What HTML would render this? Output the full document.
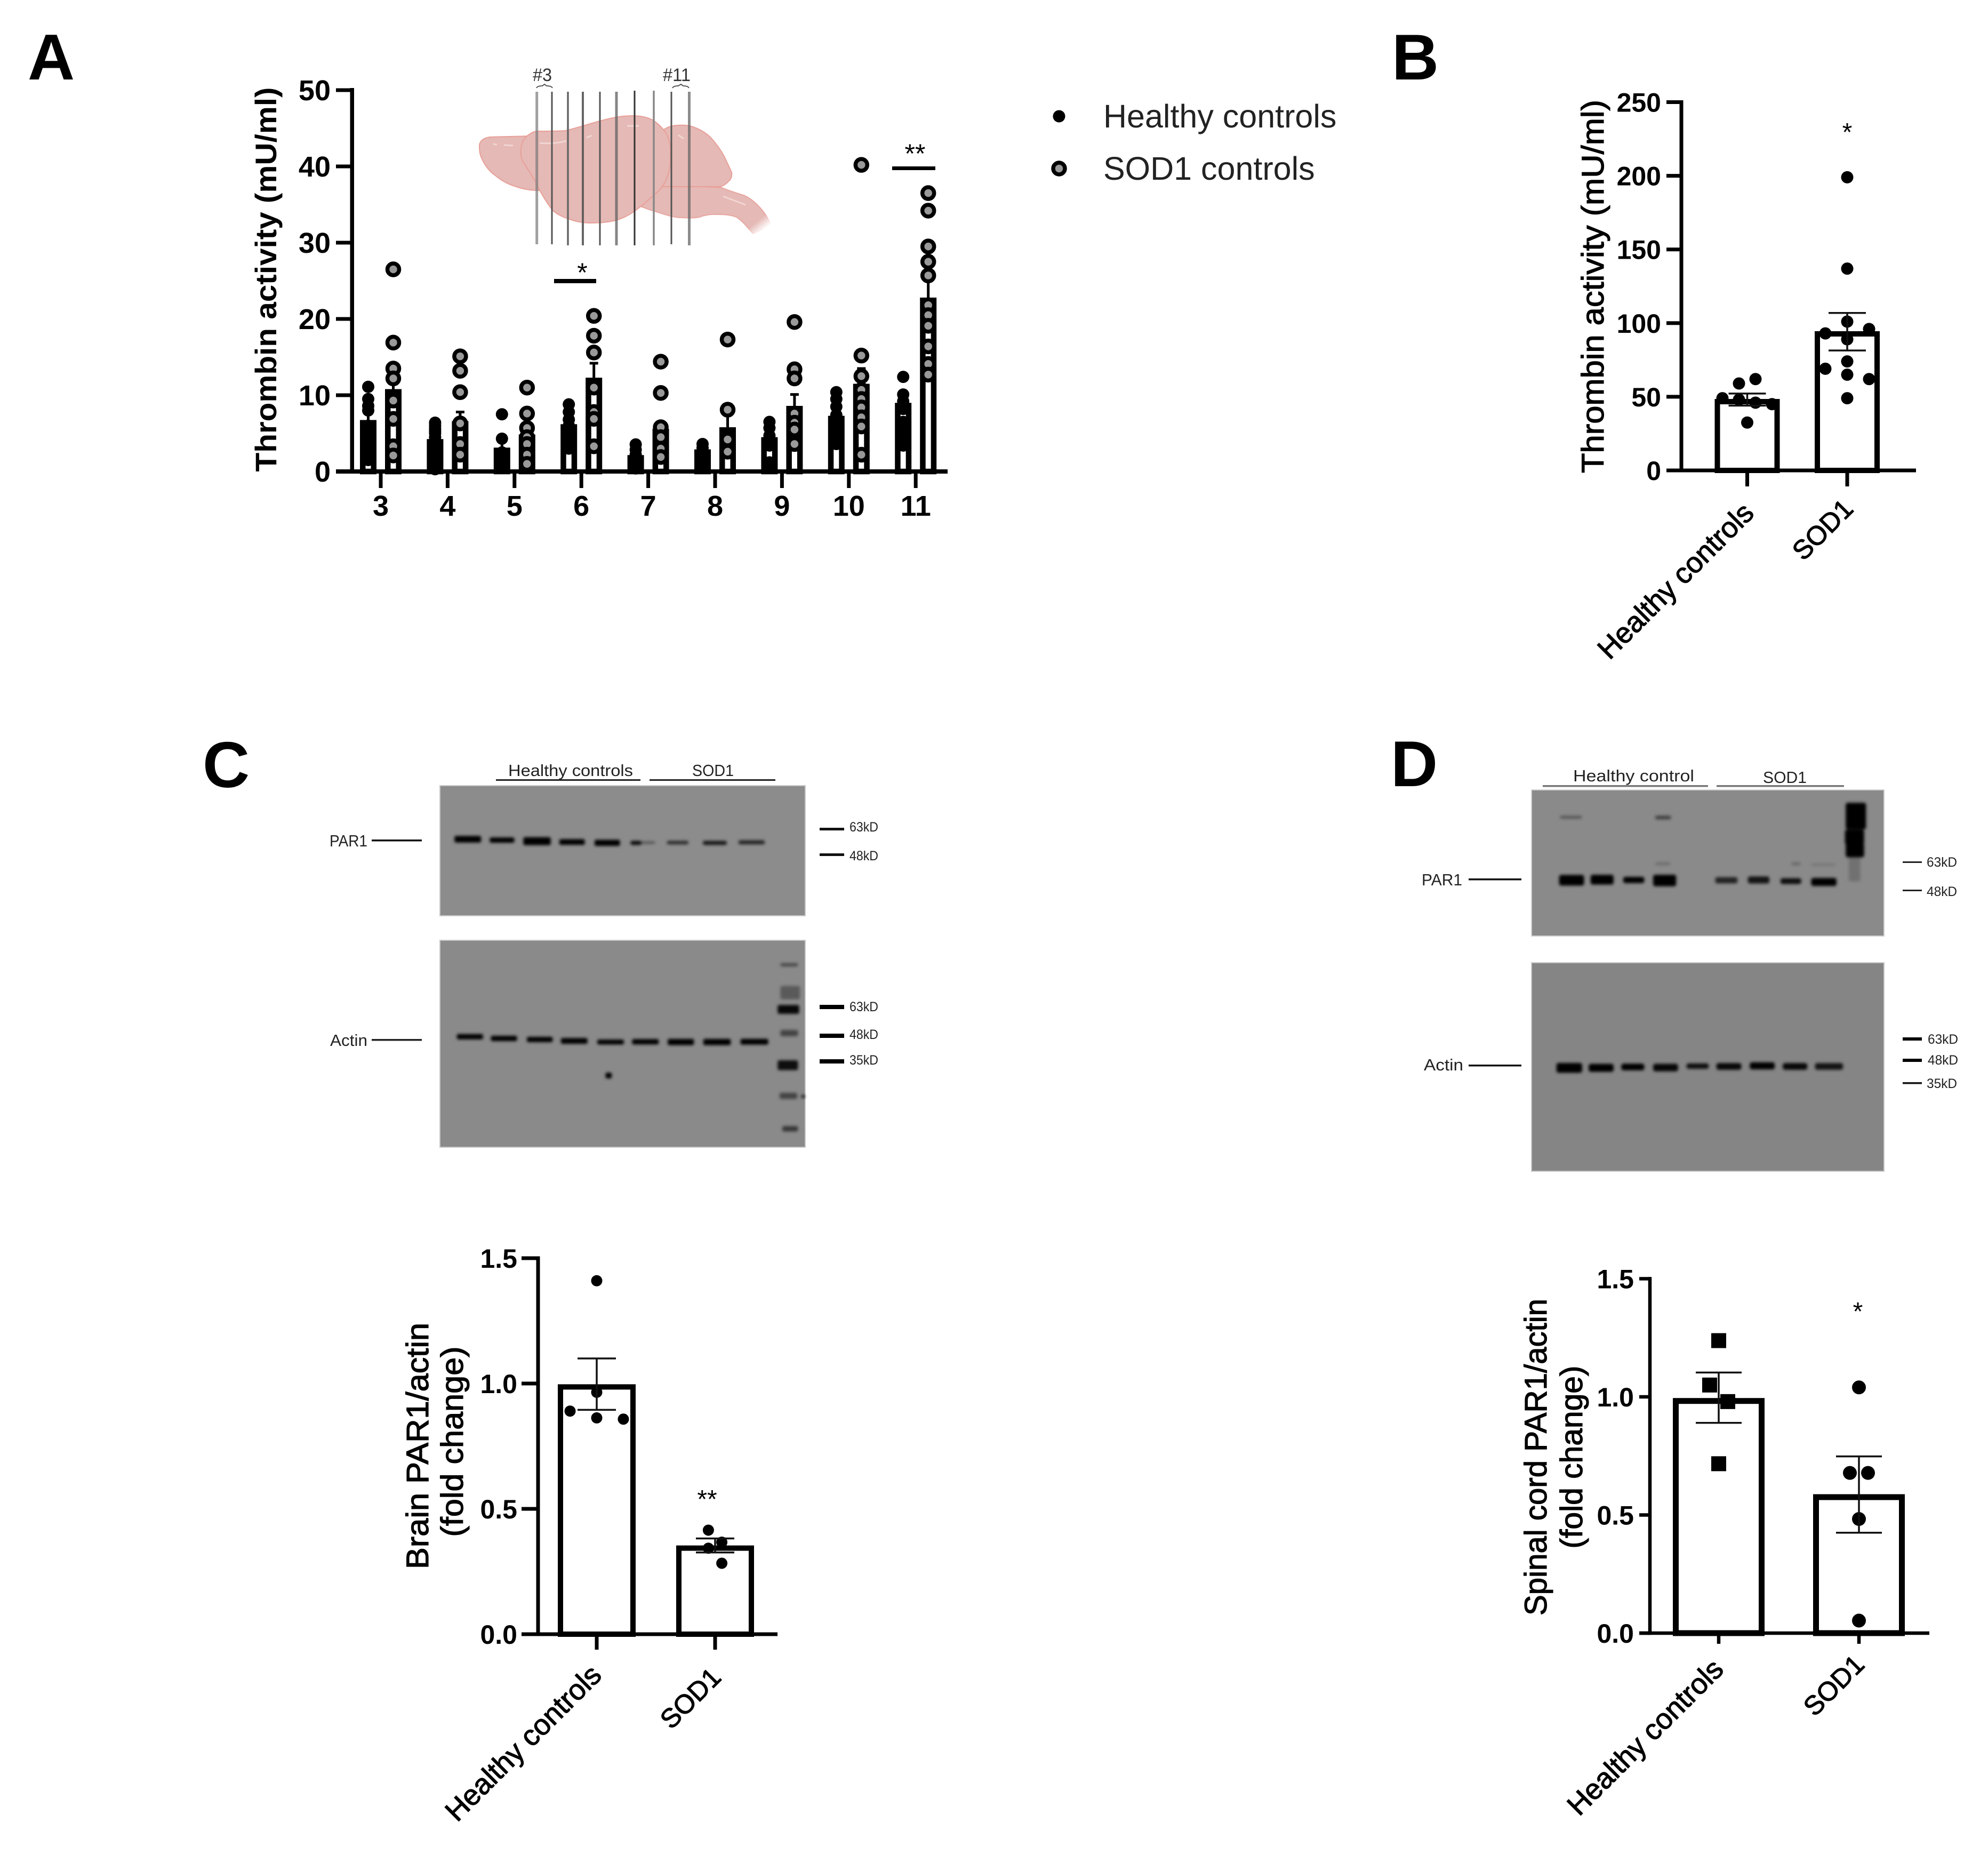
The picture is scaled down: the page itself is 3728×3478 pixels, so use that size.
<!DOCTYPE html>
<html lang="en">
<head>
<meta charset="utf-8">
<title>Thrombin activity and PAR1 expression</title>
<style>
html,body{margin:0;padding:0;background:#fff;}
svg{display:block;}
text{font-family:"Liberation Sans",Arial,sans-serif;fill:#000;}
.letter{font-size:122px;font-weight:700;}
.tick-a{font-size:54px;font-weight:700;}
.blot-label{font-size:31px;fill:#222;}
.kd{font-size:25px;fill:#222;}
</style>
</head>
<body>
<svg id="fig" xmlns="http://www.w3.org/2000/svg" width="3728" height="3478" viewBox="0 0 3728 3478">
  <defs>
    <filter id="soft" x="-30%" y="-100%" width="160%" height="300%"><feGaussianBlur stdDeviation="2.8"/></filter>
    <linearGradient id="stemFade" gradientUnits="userSpaceOnUse" x1="1395" y1="402" x2="1424" y2="438">
      <stop offset="0" stop-color="#e5b9b5"/><stop offset="0.55" stop-color="#e5b9b5"/><stop offset="1" stop-color="#ffffff"/>
    </linearGradient>
    <linearGradient id="stemEdgeFade" gradientUnits="userSpaceOnUse" x1="1395" y1="402" x2="1424" y2="438">
      <stop offset="0" stop-color="#e8a7a1"/><stop offset="0.55" stop-color="#e8a7a1"/><stop offset="1" stop-color="#ffffff"/>
    </linearGradient>
  </defs>
  <rect width="3728" height="3478" fill="#fff"/>

  <text class="letter" x="52" y="149">A</text>
  <text class="letter" x="2610" y="149">B</text>
  <text class="letter" x="380" y="1476">C</text>
  <text class="letter" x="2608" y="1474">D</text>

  <g>
    <path d="M1243 350 L1201 387 C1210 390 1216 393 1224 395 C1245 401 1260 408 1278 408 C1292 409 1302 409 1312 407 C1322 403 1330 402 1339 402 C1355 402 1368 402 1381 407 C1392 414 1402 426 1412 438 L1446 423 C1440 408 1432 396 1423 387 C1415 378 1407 372 1397 367 C1382 362 1368 358 1354 352 L1320 350 Z" fill="url(#stemFade)" stroke="url(#stemEdgeFade)" stroke-width="2"/>
    <path d="M991 255 C970 256 940 256 918 257 C905 259 898 266 899 276 C899 288 902 296 908 306 C915 318 922 324 930 330 C942 340 954 346 968 350 C982 355 996 357 1012 357 L1020 300 Z" fill="#e5b9b5" stroke="#e8a099" stroke-width="2"/>
    <path d="M1245 243 C1252 238 1262 235 1270 235 C1282 234 1290 235 1297 237 C1312 242 1322 248 1332 257 C1344 270 1352 282 1358 293 C1364 306 1369 316 1372 323 C1373 332 1370 337 1366 340 C1362 345 1357 348 1351 350 L1320 350 L1243 350 Z" fill="#e5b9b5" stroke="#e8a099" stroke-width="2"/>
    <path d="M978 272 C980 263 985 257 991 253 C996 249 1002 246 1008 246 C1025 246 1045 246 1060 245 C1082 240 1105 232 1125 227 C1145 221 1165 217 1186 217 C1200 217 1214 220 1224 225 C1236 233 1245 243 1251 253 C1256 265 1258 276 1257 287 C1258 302 1257 315 1253 327 C1249 340 1243 349 1236 357 C1222 370 1208 382 1194 393 C1182 402 1170 409 1155 413 C1140 417 1125 418 1110 418 C1095 418 1082 416 1071 412 C1058 408 1046 403 1037 395 C1028 384 1018 368 1010 353 C1002 335 990 318 979 300 C976 290 976 280 978 272 Z" fill="#e5b9b5" stroke="#e8a099" stroke-width="2"/>
    <path d="M1012 268 C1030 270 1050 268 1062 264 M1100 258 L1110 254 M1176 236 L1198 236 M1272 253 L1282 260 M925 270 L932 271 M945 272 L962 273 M1356 368 L1398 384" fill="none" stroke="#f0d6d3" stroke-width="3"/>
  </g>
  <g>
    <line x1="1006.7" x2="1006.7" y1="172" y2="458" stroke="#777" stroke-opacity=".7" stroke-width="5"/>
    <line x1="1035" x2="1035" y1="172" y2="458" stroke="#555" stroke-width="3"/>
    <line x1="1065" x2="1065" y1="172" y2="460" stroke="#666" stroke-width="3.5"/>
    <line x1="1093" x2="1093" y1="172" y2="460" stroke="#555" stroke-opacity=".9" stroke-width="4"/>
    <line x1="1125" x2="1125" y1="172" y2="460" stroke="#555" stroke-width="3"/>
    <line x1="1156" x2="1156" y1="172" y2="460" stroke="#666" stroke-opacity=".8" stroke-width="5"/>
    <line x1="1190" x2="1190" y1="170" y2="460" stroke="#333" stroke-width="3"/>
    <line x1="1226" x2="1226" y1="170" y2="460" stroke="#888" stroke-width="3.5"/>
    <line x1="1259" x2="1259" y1="172" y2="458" stroke="#555" stroke-width="3"/>
    <line x1="1292.5" x2="1292.5" y1="172" y2="460" stroke="#666" stroke-opacity=".75" stroke-width="5"/>
  </g>
  <text x="1017" y="152" font-size="34" text-anchor="middle" textLength="36" lengthAdjust="spacingAndGlyphs" style="fill:#333">#3</text>
  <text x="1269" y="152" font-size="34" text-anchor="middle" textLength="52" lengthAdjust="spacingAndGlyphs" style="fill:#333">#11</text>
  <path d="M1006 165 Q1008 161 1017 161 L1021 158 L1025 161 Q1034 161 1036 165" fill="none" stroke="#444" stroke-width="1.8"/>
  <path d="M1261 165 Q1263 161 1272 161 L1277 158 L1281 161 Q1290 161 1292 165" fill="none" stroke="#444" stroke-width="1.8"/>

  <g id="panelA"></g>
  <text transform="translate(518,524) rotate(-90)" text-anchor="middle" font-size="56" font-weight="700" textLength="721" lengthAdjust="spacingAndGlyphs">Thrombin activity (mU/ml)</text>

  <g>
    <circle cx="1986" cy="218" r="11.5" fill="#000"/>
    <text x="2069" y="239" font-size="61" style="fill:#222">Healthy controls</text>
    <circle cx="1986" cy="316" r="11" fill="#999" stroke="#000" stroke-width="7.5"/>
    <text x="2069" y="337" font-size="61" style="fill:#222">SOD1 controls</text>
  </g>

  <g id="panelB"></g>
  <g id="panelC"></g>
  <g id="panelD"></g>

  <g>
    <rect x="825" y="1473" width="685" height="244" fill="#8c8c8c" stroke="#c8c8c8" stroke-width="2"/>
    <rect x="825" y="1763" width="685" height="388" fill="#8a8a8a" stroke="#c8c8c8" stroke-width="2"/>
    <g id="bandsC" filter="url(#soft)"></g>
    <text class="blot-label" x="953" y="1455" textLength="234" lengthAdjust="spacingAndGlyphs">Healthy controls</text>
    <text class="blot-label" x="1298" y="1455" textLength="78" lengthAdjust="spacingAndGlyphs">SOD1</text>
    <rect x="930" y="1461" width="271" height="3" fill="#222"/>
    <rect x="1218" y="1461" width="236" height="3" fill="#222"/>
    <text class="blot-label" x="618" y="1587" textLength="71" lengthAdjust="spacingAndGlyphs">PAR1</text>
    <rect x="697" y="1574" width="94" height="3.5" fill="#111"/>
    <text class="blot-label" x="619" y="1961" textLength="70" lengthAdjust="spacingAndGlyphs">Actin</text>
    <rect x="697" y="1948" width="94" height="3.5" fill="#222"/>
    <rect x="1537" y="1552" width="46" height="5" fill="#111"/>
    <text class="kd" x="1593" y="1559" textLength="54" lengthAdjust="spacingAndGlyphs">63kD</text>
    <rect x="1537" y="1600" width="46" height="5" fill="#111"/>
    <text class="kd" x="1593" y="1613" textLength="54" lengthAdjust="spacingAndGlyphs">48kD</text>
    <rect x="1537" y="1884" width="46" height="8" fill="#000"/>
    <text class="kd" x="1593" y="1896" textLength="54" lengthAdjust="spacingAndGlyphs">63kD</text>
    <rect x="1537" y="1938" width="46" height="8" fill="#000"/>
    <text class="kd" x="1593" y="1948" textLength="54" lengthAdjust="spacingAndGlyphs">48kD</text>
    <rect x="1537" y="1986" width="46" height="8" fill="#000"/>
    <text class="kd" x="1593" y="1996" textLength="54" lengthAdjust="spacingAndGlyphs">35kD</text>
  </g>

  <g>
    <rect x="2872" y="1481" width="661" height="274" fill="#8a8a8a" stroke="#d0d0d0" stroke-width="2"/>
    <rect x="2872" y="1805" width="661" height="391" fill="#858585" stroke="#c8c8c8" stroke-width="2"/>
    <g id="bandsD" filter="url(#soft)"></g>
    <text class="blot-label" x="2950" y="1465" textLength="227" lengthAdjust="spacingAndGlyphs">Healthy control</text>
    <text class="blot-label" x="3306" y="1468" textLength="82" lengthAdjust="spacingAndGlyphs">SOD1</text>
    <rect x="2893" y="1472" width="310" height="3.5" fill="#777"/>
    <rect x="3219" y="1472" width="239" height="3.5" fill="#777"/>
    <text class="blot-label" x="2666" y="1660" textLength="76" lengthAdjust="spacingAndGlyphs">PAR1</text>
    <rect x="2754" y="1647" width="99" height="3.5" fill="#111"/>
    <text class="blot-label" x="2670" y="2007" textLength="74" lengthAdjust="spacingAndGlyphs">Actin</text>
    <rect x="2754" y="1996" width="99" height="3.5" fill="#111"/>
    <rect x="3568" y="1615" width="36" height="3" fill="#222"/>
    <text class="kd" x="3613" y="1625" textLength="57" lengthAdjust="spacingAndGlyphs">63kD</text>
    <rect x="3568" y="1668" width="36" height="3" fill="#222"/>
    <text class="kd" x="3613" y="1680" textLength="57" lengthAdjust="spacingAndGlyphs">48kD</text>
    <rect x="3568" y="1945" width="36" height="6" fill="#000"/>
    <text class="kd" x="3615" y="1957" textLength="57" lengthAdjust="spacingAndGlyphs">63kD</text>
    <rect x="3568" y="1985" width="36" height="6" fill="#000"/>
    <text class="kd" x="3615" y="1996" textLength="57" lengthAdjust="spacingAndGlyphs">48kD</text>
    <rect x="3568" y="2029" width="36" height="3.5" fill="#111"/>
    <text class="kd" x="3613" y="2040" textLength="57" lengthAdjust="spacingAndGlyphs">35kD</text>
  </g>
</svg>

<script>
/* Panel A data */
const aCategories = ['3','4','5','6','7','8','9','10','11'];
const aYTicks = [0,10,20,30,40,50];
const aHealthyMeans = [6.75,4.25,3.13,6.2,2.15,2.9,4.5,7.3,9.0];
const aSodMeans = [10.8,6.6,4.85,12.3,5.6,5.8,8.6,11.5,22.8];
const aHealthySem = [1.0,0.6,0.9,0.8,0.4,0.3,0.7,0.9,0.9];
const aSodSem = [2.5,1.2,1.0,1.9,0.7,2.2,1.5,2.0,2.6];
const aHealthyPoints = [
  [11.1,9.5,8.6,8.0,6.0,5.5,4.2,3.0,2.0,1.5],
  [6.4,6.0,5.6,5.3,5.0,4.5,3.6,2.4,1.5,0.3],
  [7.5,4.3,2.5,2.0,1.5,1.0],
  [8.8,7.8,6.8,6.0,5.2,4.5,3.8,3.0],
  [3.55,2.85,2.2,1.6,1.0,0.4],
  [3.6,3.1,2.4,1.8,1.2,0.6],
  [6.5,5.7,4.7,4.0,3.4,1.2,0.6],
  [10.4,9.5,8.5,7.4,6.4,5.4,4.4,3.6],
  [12.4,10.1,9.2,8.2,6.5,5.4,4.2,3.4]
];
const aSodPoints = [
  [26.5,16.9,13.5,12.2,9.3,6.9,3.3,2.1],
  [15.1,13.2,10.4,6.3,3.6,2.2],
  [11.0,7.6,5.7,4.5,3.6,2.2,1.0],
  [20.4,17.8,15.6,11.0,7.8,6.9,3.3],
  [14.4,10.3,5.8,4.5,3.0,1.9],
  [17.3,8.1,4.2,2.6],
  [19.6,13.4,12.2,7.6,6.4,5.5,3.6],
  [40.2,15.2,12.5,10.7,9.5,8.4,7.1,5.9,2.2],
  [36.5,34.2,29.5,27.5,25.7,21.8,20.5,19.1,16.4,14.1,12.7]
];

/* Panel B data */
const bCategories = ['Healthy controls','SOD1'];
const bYTicks = [0,50,100,150,200,250];
const bMeans = [48.5,94.5];
const bErrLow = [44,81.4];
const bErrHigh = [52.2,106.9];
const bHealthyPoints = [62,59,46,48,45,49,32.5];
const bSodPoints = [199,137,101,96,93,89,74,65,62,69,49];

/* Panel C data */
const cCategories = ['Healthy controls','SOD1'];
const cYTicks = ['0.0','0.5','1.0','1.5'];
const cMeans = [0.997,0.354];
const cErrLow = [0.895,0.326];
const cErrHigh = [1.10,0.382];
const cHealthyPoints = [1.41,0.965,0.89,0.863,0.858];
const cSodPoints = [0.415,0.367,0.343,0.283];

/* Panel D data */
const dCategories = ['Healthy controls','SOD1'];
const dYTicks = ['0.0','0.5','1.0','1.5'];
const dMeans = [0.995,0.588];
const dErrLow = [0.89,0.425];
const dErrHigh = [1.103,0.748];
const dHealthyPoints = [1.238,1.05,0.98,0.717];
const dSodPoints = [1.04,0.678,0.678,0.483,0.053];

const NS = 'http://www.w3.org/2000/svg';
function make(tag, parent, attrs) {
  const e = document.createElementNS(NS, tag);
  for (const k in attrs) e.setAttribute(k, attrs[k]);
  parent.appendChild(e);
  return e;
}

/* Panel A */
(function () {
  const g = document.getElementById('panelA');
  const y = v => 884 - v * 14.3;
  const x = i => 714 + i * 125.4;
  const halfGap = 23.5;
  const barW = 31, wall = 10.5;

  function drawBar(cx, mean, name) {
    const b = make('rect', g, {x: cx - barW / 2 + wall / 2, y: y(mean) + wall / 2, width: barW - wall, height: Math.max(0, 884 - y(mean) - wall / 2), fill: '#fff', stroke: '#000', 'stroke-width': wall});
    
    
  }
  function drawErr(cx, mean, sem, name) {
    const s = make('path', g, {d: `M${cx} ${y(mean)}V${y(mean + sem)}M${cx - 8} ${y(mean + sem)}H${cx + 8}`, fill: 'none', stroke: '#000', 'stroke-width': 5});
    
    
  }

  aCategories.forEach((cat, i) => {
    const c1 = x(i) - halfGap, c2 = x(i) + halfGap;
    drawBar(c1, aHealthyMeans[i], 'healthy-bar-section-' + cat);
    drawBar(c2, aSodMeans[i], 'sod1-bar-section-' + cat);
    drawErr(c1, aHealthyMeans[i], aHealthySem[i], 'healthy-error-bar-section-' + cat);
    drawErr(c2, aSodMeans[i], aSodSem[i], 'sod1-error-bar-section-' + cat);
    aHealthyPoints[i].forEach(v => {
      const p = make('circle', g, {cx: c1, cy: y(v), r: 11.5, fill: '#000'});
      
      
    });
    aSodPoints[i].forEach(v => {
      const p = make('circle', g, {cx: c2, cy: y(v), r: 11, fill: '#999', stroke: '#000', 'stroke-width': 7.5});
      
      
    });
    const t = make('rect', g, {x: x(i) - 3.5, y: 884, width: 7, height: 31, fill: '#000'});
    
    
    const l = make('text', g, {x: x(i), y: 967, 'text-anchor': 'middle', class: 'tick-a'});
    l.textContent = cat;
    
    
  });

  const ya = make('rect', g, {x: 656.5, y: y(50) - 4, width: 7.5, height: 884 - y(50) + 8, fill: '#000'});
  
  
  const xa = make('rect', g, {x: 630, y: 880, width: 1147, height: 8, fill: '#000'});
  
  

  aYTicks.forEach(v => {
    const t = make('rect', g, {x: 630, y: y(v) - 3.5, width: 28, height: 7, fill: '#000'});
    
    
    const l = make('text', g, {x: 620, y: y(v) + 19, 'text-anchor': 'end', class: 'tick-a'});
    l.textContent = v;
    
    
  });

  const s1 = make('rect', g, {x: 1039, y: 523, width: 79, height: 8, fill: '#000'});
  
  
  const a1 = make('text', g, {x: 1092, y: 528, 'text-anchor': 'middle', 'font-size': 50});
  a1.textContent = '*';
  
  
  const s2 = make('rect', g, {x: 1673, y: 312, width: 81, height: 7, fill: '#000'});
  
  
  const a2 = make('text', g, {x: 1716, y: 305, 'text-anchor': 'middle', 'font-size': 50});
  a2.textContent = '**';
  
  
})();

/* Shared dodge: an isolated point sits on the bar centre; crowded points take
   the first free slot from a layout-only slot order. */
function dodge(values, yOf, step, order, clearance) {
  const placed = [];
  return values.map((v, i) => {
    const isolated = values.every((o, j) => j === i || Math.abs(yOf(o) - yOf(v)) >= clearance);
    let off = 0;
    if (!isolated) {
      for (const slot of order) {
        const cand = slot * step;
        if (placed.every(p => p.off !== cand || Math.abs(p.py - yOf(v)) >= clearance)) { off = cand; break; }
      }
    }
    placed.push({off: off, py: yOf(v)});
    return off;
  });
}

function barPanel(opt) {
  const g = document.getElementById(opt.id);
  const y = v => opt.y0 - v * opt.unit;
  const x = i => opt.x0 + i * opt.step;
  const pre = opt.prefix;

  opt.categories.forEach((cat, i) => {
    const cx = x(i), hw = opt.halfWidth, sw = opt.barStroke;
    const bar = make('rect', g, {x: cx - hw + sw / 2, y: y(opt.means[i]) + sw / 2, width: 2 * hw - sw, height: opt.y0 - y(opt.means[i]) - sw / 2, fill: '#fff', stroke: '#000', 'stroke-width': sw});
    
    

    const pts = opt.points[i];
    const offs = dodge(pts, y, opt.dodgeSteps[i], opt.dodgeOrders[i], opt.clearance);
    pts.forEach((v, k) => {
      let m;
      if (opt.squareR && i === 0) {
        m = make('rect', g, {x: cx + offs[k] - opt.squareR, y: y(v) - opt.squareR, width: 2 * opt.squareR, height: 2 * opt.squareR, fill: '#000'});
      } else {
        m = make('circle', g, {cx: cx + offs[k], cy: y(v), r: opt.dotR, fill: '#000'});
      }
      
      
    });

    const err = make('path', g, {d: `M${cx} ${y(opt.errLow[i])}V${y(opt.errHigh[i])}M${cx - opt.capW} ${y(opt.errHigh[i])}H${cx + opt.capW}M${cx - opt.capW} ${y(opt.errLow[i])}H${cx + opt.capW}`, fill: 'none', stroke: '#111', 'stroke-width': 3.5});
    
    

    const tick = make('rect', g, {x: cx - opt.axisW / 2, y: opt.y0, width: opt.axisW, height: opt.tickDown, fill: '#000'});
    
    

    const lab = make('text', g, {transform: `translate(${opt.labelAnchors[i][0]},${opt.labelAnchors[i][1]}) rotate(-45)`, 'text-anchor': 'end', 'font-size': opt.catFonts[i], style: 'stroke:#000;stroke-width:1.2'});
    lab.textContent = cat;
    
    
  });

  const ya = make('rect', g, {x: opt.axisX - opt.axisW / 2, y: y(+opt.ticks[opt.ticks.length - 1]) - opt.axisW / 2, width: opt.axisW, height: opt.y0 - y(+opt.ticks[opt.ticks.length - 1]) + opt.axisW, fill: '#000'});
  
  
  const xa = make('rect', g, {x: opt.tickLeft, y: opt.y0 - opt.axisW / 2, width: opt.axisEnd - opt.tickLeft, height: opt.axisW, fill: '#000'});
  
  

  opt.ticks.forEach(label => {
    const py = y(+label);
    const t = make('rect', g, {x: opt.tickLeft, y: py - opt.axisW / 2, width: opt.axisX - opt.tickLeft, height: opt.axisW, fill: '#000'});
    
    
    const l = make('text', g, {x: opt.tickLabelX, y: py + opt.tickFont * 0.36, 'text-anchor': 'end', 'font-size': opt.tickFont, 'font-weight': 700});
    l.textContent = label;
    
    
  });

  opt.yTitles.forEach(tl => {
    const l = make('text', g, {transform: `translate(${tl.x},${tl.y}) rotate(-90)`, 'text-anchor': 'middle', 'font-size': tl.size, textLength: tl.len, lengthAdjust: 'spacingAndGlyphs', style: 'stroke:#000;stroke-width:1.2'});
    l.textContent = tl.text;
    
    
  });

  const star = make('text', g, {x: opt.star.x, y: opt.star.y + 22, 'text-anchor': 'middle', 'font-size': 48});
  star.textContent = opt.star.text;
  
  
}

barPanel({
  id: 'panelB', prefix: 'panel-b', categories: bCategories, ticks: bYTicks,
  means: bMeans, errLow: bErrLow, errHigh: bErrHigh, points: [bHealthyPoints, bSodPoints],
  y0: 882, unit: 2.762, x0: 3276.5, step: 187.5, halfWidth: 61, barStroke: 10,
  dotR: 11.5, capW: 35, axisX: 3153, axisW: 7, tickLeft: 3125, axisEnd: 3593, tickDown: 30,
  dodgeSteps: [15.5, 41], dodgeOrders: [[1, -1, 3, -3], [0, 1, -1]], clearance: 23,
  tickLabelX: 3115, tickFont: 50, catFonts: [54, 50],
  labelAnchors: [[3292, 965], [3478, 957]],
  yTitles: [{text: 'Thrombin activity (mU/ml)', x: 3007, y: 537, size: 58, len: 700}],
  star: {x: 3464, y: 242, text: '*'}
});

barPanel({
  id: 'panelC', prefix: 'panel-c', categories: cCategories, ticks: cYTicks,
  means: cMeans, errLow: cErrLow, errHigh: cErrHigh, points: [cHealthyPoints, cSodPoints],
  y0: 3064, unit: 470, x0: 1119, step: 222, halfWidth: 73, barStroke: 10,
  dotR: 10.5, capW: 36, axisX: 1009, axisW: 7, tickLeft: 978, axisEnd: 1458, tickDown: 29,
  dodgeSteps: [50, 12.6], dodgeOrders: [[-1, 0, 1], [-1, 1]], clearance: 30,
  tickLabelX: 970, tickFont: 50, catFonts: [54, 50],
  labelAnchors: [[1131, 3144], [1355, 3148]],
  yTitles: [
    {text: 'Brain PAR1/actin', x: 803, y: 2711, size: 58, len: 462},
    {text: '(fold change)', x: 868, y: 2703, size: 58, len: 357}
  ],
  star: {x: 1326, y: 2805, text: '**'}
});

barPanel({
  id: 'panelD', prefix: 'panel-d', categories: dCategories, ticks: dYTicks,
  means: dMeans, errLow: dErrLow, errHigh: dErrHigh, points: [dHealthyPoints, dSodPoints],
  y0: 3062, unit: 443, x0: 3223, step: 263, halfWidth: 86, barStroke: 11,
  dotR: 13, squareR: 14, capW: 43, axisX: 3094, axisW: 6.5, tickLeft: 3074, axisEnd: 3618, tickDown: 20,
  dodgeSteps: [17, 17], dodgeOrders: [[-1, 1], [-1, 1]], clearance: 36,
  tickLabelX: 3064, tickFont: 50, catFonts: [54, 50],
  labelAnchors: [[3235, 3133], [3499, 3124]],
  yTitles: [
    {text: 'Spinal cord PAR1/actin', x: 2900, y: 2732, size: 58, len: 594},
    {text: '(fold change)', x: 2967, y: 2732, size: 58, len: 343}
  ],
  star: {x: 3484, y: 2453, text: '*'}
});

/* Western-blot bands (image content, not chart data) */
(function () {
  const gc = document.getElementById('bandsC');
  const cx = z => 550 + z / 1.363, cy = z => 1380 + z / 1.912;
  const cBands = [
    [412,480,370,15,1],[502,565,373,12,1],[588,658,377,18,1],[680,745,380,13,1],[770,835,383,14,1],
    [862,890,383,9,.95],[890,925,382,5,.45],[955,1010,382,8,.7],[1047,1108,383,9,.85],[1138,1205,381,9,.75],
    [418,485,1078,12,1],[505,572,1084,12,1],[597,663,1088,12,1],[684,752,1093,13,1],[777,845,1097,11,1],
    [866,934,1096,12,1],[957,1024,1097,14,1],[1048,1118,1097,14,1],[1143,1214,1096,13,1],
    [1245,1290,820,7,.5],[1245,1295,920,30,.35],[1238,1293,980,20,.95],[1245,1290,1065,14,.5],
    [1238,1290,1180,22,.9],[1243,1288,1290,14,.5],[1250,1290,1408,12,.6],
    [798,814,1217,13,1],[1298,1308,1292,6,1]
  ];
  cBands.forEach(b => {
    const r = make('rect', gc, {x: cx(b[0]), y: cy(b[2]) - b[3] / 2 / 1.2, width: cx(b[1]) - cx(b[0]), height: b[3] / 1.2, rx: 3, fill: '#000', opacity: b[4]});
    
    
  });

  const gd = document.getElementById('bandsD');
  const dx = z => 2600 + z / 1.39, dy = z => 1400 + z / 1.845;
  const dBands = [
    [450,515,462,24,1],[532,592,460,22,1],[617,672,461,14,1],[695,755,463,26,1],
    [857,915,462,14,.75],[942,998,461,16,.85],[1027,1081,465,13,.9],[1107,1173,468,18,1],
    [452,510,244,6,.4],[700,742,245,8,.55],[700,740,405,5,.25],[1055,1080,405,6,.25],[1107,1170,408,4,.2],
    [1197,1250,240,60,1],[1195,1245,313,34,1],[1197,1245,358,32,1],[1205,1235,420,60,.18],
    [443,510,1111,22,1],[527,592,1111,18,1],[612,672,1108,15,1],[695,760,1110,17,.95],[782,840,1105,12,.9],
    [860,925,1106,15,.95],[947,1012,1104,16,1],[1033,1097,1106,15,.95],[1117,1190,1106,15,.85]
  ];
  dBands.forEach(b => {
    const r = make('rect', gd, {x: dx(b[0]), y: dy(b[2]) - b[3] / 2 / 1.2, width: dx(b[1]) - dx(b[0]), height: b[3] / 1.2, rx: 4, fill: '#000', opacity: b[4]});
    
    
  });
})();
</script>
</body>
</html>
